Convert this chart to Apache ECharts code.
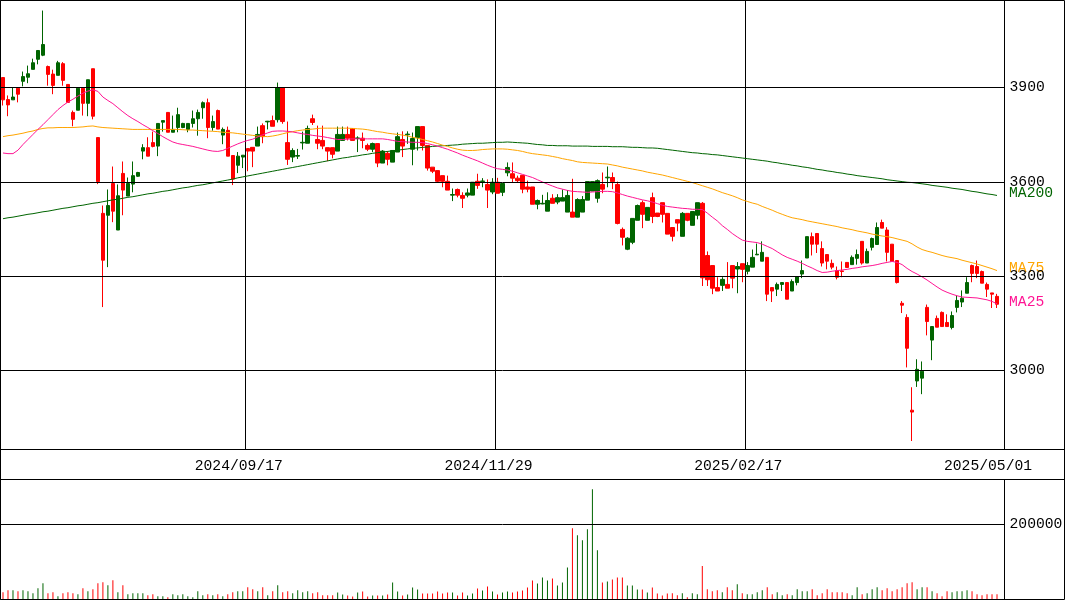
<!DOCTYPE html>
<html><head><meta charset="utf-8">
<script src="https://cdn.jsdelivr.net/npm/echarts@6/dist/echarts.min.js"></script>
<style>html,body{margin:0;padding:0;background:#fff}#c{width:1065px;height:600px}</style>
</head><body><div id="c"></div>
<script>
const opens = [3932,3862,3861,3898,3920,3933,3958,3990,4003,3967,3943,3939,3976,3910,3821,3828,3898,3850,3960,3741,
3500,3494,3595,3447,3627,3555,3593,3618,3698,3709,3725,3714,3790,3821,3758,3773,3773,3767,3786,3801,
3836,3852,3773,3827,3749,3764,3684,3653,3679,3706,3710,3714,3779,3791,3795,3798,3900,3725,3679,3682,
3724,3723,3801,3735,3732,3709,3709,3698,3732,3751,3770,3738,3739,3716,3704,3722,3660,3691,3663,3695,
3735,3750,3704,3741,3776,3716,3647,3636,3620,3602,3558,3576,3557,3558,3558,3602,3601,3592,3568,3599,
3567,3629,3626,3612,3621,3584,3584,3529,3530,3507,3548,3536,3539,3504,3504,3488,3504,3542,3571,3548,
3592,3613,3614,3592,3449,3386,3408,3478,3534,3478,3550,3501,3534,3500,3455,3480,3427,3500,3462,3494,
3532,3366,3334,3264,3271,3274,3334,3323,3340,3316,3329,3368,3348,3360,3264,3259,3274,3280,3253,3280,
3307,3358,3426,3436,3388,3369,3341,3318,3317,3344,3337,3357,3411,3342,3392,3401,3471,3447,3402,3350,
3214,3169,2874,2967,2976,3201,3097,3166,3185,3153,3137,3201,3218,3246,3334,3331,3315,3274,3247,3236];
const closes = [3861,3845,3870,3879,3935,3944,3979,4018,4037,3942,3907,3979,3923,3853,3799,3898,3850,3925,3809,3601,
3351,3525,3507,3556,3574,3595,3620,3630,3709,3682,3713,3786,3795,3758,3767,3814,3786,3786,3801,3821,
3852,3773,3792,3768,3767,3682,3609,3682,3685,3698,3698,3751,3744,3793,3777,3900,3792,3672,3700,3684,
3726,3770,3789,3723,3714,3698,3688,3751,3751,3739,3732,3740,3732,3704,3722,3660,3698,3672,3700,3744,
3714,3752,3738,3776,3716,3644,3634,3602,3602,3574,3560,3558,3548,3565,3599,3589,3603,3574,3599,3564,
3595,3646,3612,3604,3577,3577,3529,3541,3532,3541,3532,3550,3550,3557,3488,3544,3544,3601,3601,3604,
3577,3615,3601,3468,3424,3421,3484,3525,3497,3519,3490,3490,3497,3434,3427,3469,3500,3478,3506,3534,
3295,3289,3262,3253,3290,3262,3294,3331,3322,3334,3360,3370,3376,3243,3253,3274,3280,3227,3283,3299,
3318,3426,3402,3402,3342,3348,3329,3297,3315,3328,3360,3369,3342,3379,3420,3455,3453,3376,3347,3280,
3208,3071,2868,3004,2998,3156,3140,3138,3140,3140,3175,3223,3230,3280,3309,3309,3278,3259,3243,3211];
const highs = [3932,3875,3899,3898,3951,3970,3992,4018,4145,3970,3957,3985,3981,3910,3827,3898,3898,3925,3960,3741,
3525,3576,3649,3592,3665,3614,3665,3632,3720,3742,3760,3786,3795,3821,3811,3836,3788,3786,3827,3830,
3856,3865,3811,3830,3773,3776,3684,3695,3685,3706,3710,3776,3786,3794,3811,3916,3900,3792,3707,3705,
3760,3779,3814,3779,3779,3709,3709,3776,3776,3776,3770,3745,3757,3722,3725,3722,3701,3698,3700,3757,
3761,3761,3757,3776,3776,3716,3647,3636,3620,3620,3579,3579,3567,3579,3599,3626,3612,3608,3612,3613,
3595,3662,3662,3620,3621,3604,3584,3544,3559,3567,3561,3561,3576,3574,3610,3548,3555,3601,3601,3608,
3630,3649,3630,3601,3455,3424,3484,3528,3541,3519,3566,3501,3534,3500,3455,3480,3504,3500,3506,3534,
3536,3379,3334,3297,3297,3345,3334,3345,3340,3345,3385,3404,3411,3360,3264,3280,3280,3280,3290,3299,
3350,3426,3439,3436,3411,3369,3353,3331,3347,3344,3366,3385,3411,3388,3423,3471,3480,3456,3402,3350,
3221,3179,2947,3036,3029,3210,3140,3175,3188,3179,3188,3239,3255,3297,3337,3350,3318,3280,3247,3244];
const lows = [3843,3809,3861,3853,3904,3914,3958,3974,4000,3906,3879,3939,3906,3853,3777,3828,3811,3809,3799,3593,
3202,3329,3472,3447,3494,3555,3567,3616,3672,3682,3710,3682,3760,3758,3758,3758,3771,3758,3773,3747,
3801,3739,3763,3768,3720,3682,3590,3628,3644,3634,3647,3714,3723,3767,3777,3789,3785,3654,3663,3673,
3703,3723,3781,3704,3704,3666,3675,3698,3732,3732,3732,3695,3707,3698,3695,3647,3660,3653,3663,3695,
3679,3721,3653,3700,3700,3636,3628,3599,3583,3574,3539,3551,3517,3551,3558,3578,3583,3517,3561,3564,
3555,3618,3599,3599,3564,3567,3529,3513,3529,3507,3532,3529,3539,3504,3488,3488,3504,3542,3571,3534,
3564,3583,3577,3465,3398,3383,3402,3478,3453,3478,3469,3488,3471,3434,3411,3443,3427,3475,3462,3481,
3269,3269,3243,3253,3253,3262,3262,3246,3281,3306,3329,3368,3348,3221,3218,3237,3253,3227,3253,3271,
3294,3358,3366,3374,3331,3322,3322,3290,3297,3328,3337,3337,3337,3342,3382,3401,3453,3347,3347,3277,
3183,3010,2776,2948,2925,3112,3033,3138,3140,3140,3131,3185,3202,3246,3281,3294,3278,3234,3199,3199];
const volumes = [19500,24800,24800,22100,24800,22100,16800,30100,43500,16800,19500,8800,16800,19500,16800,14100,30100,22100,27500,43500,
46100,38100,51500,19500,38100,14100,16800,16800,16800,11500,14100,8800,8800,6100,14100,11500,14100,8800,6100,22100,
11500,14100,11500,14100,8800,14100,19500,22100,22100,32800,27500,22100,32800,11500,22100,38100,19500,22100,16800,24800,
19500,22100,16800,19500,11500,11500,11500,18700,13300,10700,8000,18700,21300,8000,10700,10700,10700,13300,45300,21300,
10700,13300,32000,26700,16000,16000,16000,21300,16000,18700,18700,10700,18700,10700,16000,29300,24000,34700,21300,13300,
18700,21300,18700,21300,24000,32000,50700,42700,58700,50700,56000,37300,45300,85300,189300,170700,157300,186700,293300,130700,
45300,48000,53300,58700,58700,37300,37300,26700,26700,18700,32000,16000,10700,16000,16800,11500,16800,6100,16800,14100,
88800,27500,22100,24800,19500,32800,24800,40800,16800,14100,14100,19500,24800,32800,14100,19500,11500,14100,11500,27500,
22100,22100,27500,11500,16800,27500,19500,19500,19500,16800,11500,32800,14100,16800,27500,32800,24800,30100,22100,27500,
32800,43500,46100,27500,32800,32800,22100,16800,8800,22100,19500,22100,22100,24800,22100,14100,11500,14100,14100,14100];
const ma25 = [3692,3690,3690,3701,3719,3735,3751,3767,3782,3798,3814,3830,3843,3854,3863,3873,3882,3889,3893,3888,
3870,3859,3849,3836,3823,3811,3801,3792,3782,3773,3763,3754,3744,3735,3727,3722,3719,3716,3713,3709,
3705,3701,3698,3697,3700,3707,3714,3721,3727,3732,3736,3743,3750,3756,3761,3762,3762,3761,3759,3756,
3753,3751,3748,3746,3744,3741,3738,3735,3735,3736,3737,3737,3737,3737,3737,3737,3737,3735,3732,3729,
3728,3727,3726,3726,3725,3722,3718,3714,3709,3704,3698,3692,3685,3679,3673,3667,3660,3653,3647,3642,
3640,3638,3634,3629,3624,3619,3614,3607,3600,3593,3587,3581,3577,3573,3570,3569,3568,3567,3568,3569,
3570,3570,3569,3565,3560,3555,3551,3547,3543,3540,3536,3531,3526,3522,3520,3518,3516,3515,3513,3513,
3512,3501,3488,3476,3461,3449,3436,3425,3415,3411,3409,3407,3402,3395,3388,3378,3368,3360,3354,3348,
3341,3333,3326,3318,3312,3313,3316,3318,3320,3322,3325,3327,3330,3332,3334,3337,3341,3344,3347,3344,
3337,3325,3315,3307,3298,3288,3277,3266,3256,3249,3243,3238,3234,3233,3232,3231,3228,3225,3220,3212];
const ma75 = [3744,3747,3749,3752,3755,3759,3762,3767,3770,3772,3772,3773,3773,3773,3773,3774,3775,3777,3778,3775,
3773,3772,3771,3770,3769,3768,3767,3767,3767,3767,3767,3767,3767,3767,3767,3767,3766,3765,3765,3764,
3763,3762,3761,3760,3758,3757,3756,3754,3752,3750,3748,3746,3745,3744,3746,3749,3753,3757,3760,3763,
3765,3767,3768,3770,3771,3771,3771,3771,3771,3771,3770,3769,3768,3766,3763,3760,3758,3755,3753,3751,
3749,3746,3742,3739,3735,3731,3727,3722,3717,3713,3708,3704,3701,3700,3700,3701,3703,3704,3705,3705,
3705,3704,3702,3700,3697,3693,3690,3688,3686,3684,3681,3678,3674,3671,3668,3664,3662,3661,3660,3659,
3658,3657,3654,3651,3647,3644,3641,3638,3635,3631,3628,3625,3622,3618,3614,3610,3606,3602,3598,3593,
3588,3583,3578,3572,3566,3561,3556,3550,3543,3538,3533,3529,3522,3516,3510,3503,3497,3491,3486,3483,
3480,3476,3473,3470,3467,3464,3461,3458,3454,3451,3448,3444,3441,3438,3434,3431,3428,3426,3423,3419,
3415,3411,3403,3393,3385,3380,3376,3371,3366,3362,3359,3356,3351,3347,3343,3339,3334,3329,3324,3318];
const ma200 = [3483,3486,3488,3491,3494,3497,3499,3502,3505,3507,3510,3513,3516,3518,3521,3524,3526,3529,3532,3534,
3537,3540,3543,3545,3548,3551,3553,3556,3559,3562,3564,3567,3570,3572,3575,3578,3581,3583,3586,3589,
3591,3594,3597,3600,3603,3606,3609,3613,3616,3619,3622,3625,3628,3631,3634,3637,3640,3643,3646,3649,
3652,3655,3658,3661,3664,3667,3670,3673,3676,3678,3681,3683,3686,3688,3691,3693,3695,3697,3699,3701,
3703,3705,3707,3708,3710,3711,3713,3714,3715,3716,3717,3718,3720,3721,3722,3723,3723,3724,3725,3726,
3726,3727,3726,3725,3724,3723,3721,3719,3718,3716,3716,3715,3715,3715,3714,3714,3714,3714,3713,3713,
3713,3713,3712,3712,3712,3711,3710,3710,3709,3708,3708,3707,3705,3703,3701,3699,3697,3695,3693,3692,
3690,3689,3687,3686,3684,3682,3680,3678,3676,3674,3672,3670,3668,3666,3663,3661,3658,3656,3653,3651,
3648,3646,3643,3640,3638,3635,3633,3630,3628,3625,3623,3620,3618,3616,3614,3612,3610,3607,3605,3603,
3601,3599,3598,3596,3594,3592,3589,3587,3585,3583,3580,3578,3576,3573,3570,3568,3565,3562,3560,3557];
const priceTicks = [3000, 3300, 3600, 3900];
const volumeTicks = [200000];
const dateLabels = ['2024/09/17', '2024/11/29', '2025/02/17', '2025/05/01'];
const dateLabelIndex = [49, 99, 149, 199];
const dateLineIndex = [49, 99, 149];

const N = opens.length;
const cats = [];
for (let i = 0; i <= N; i++) cats.push(String(i)); // one trailing empty slot
const candles = opens.map((o, i) => [o, closes[i], lows[i], highs[i]]);
const UP = '#006400', DOWN = '#ff0000';
const C25 = '#ff1493', C75 = '#ffa500', C200 = '#006400';
const volData = volumes.map((v, i) => ({ value: v, itemStyle: { color: closes[i] > opens[i] ? UP : DOWN } }));
const FONT = 'Liberation Mono';
const FS = 14.7;

const chart = echarts.init(document.getElementById('c'), null, { renderer: 'canvas' });
function maSeries(name, data, color) {
  return {
    type: 'line', name, data, xAxisIndex: 0, yAxisIndex: 0, showSymbol: false, symbol: 'none',
    lineStyle: { color, width: 1 }, itemStyle: { color }, silent: true, z: 4,
    endLabel: { show: true, formatter: name, color, fontFamily: FONT, fontSize: FS, distance: 12, offset: [0, -2] }
  };
}
chart.setOption({
  animation: false,
  backgroundColor: '#fff',
  graphic: [
    { type: 'line', shape: { x1: 0, y1: 449.5, x2: 1065, y2: 449.5 }, style: { stroke: '#000', lineWidth: 1 }, z: 100 },
    { type: 'line', shape: { x1: 0, y1: 479.5, x2: 1065, y2: 479.5 }, style: { stroke: '#000', lineWidth: 1 }, z: 100 },
    { type: 'rect', shape: { x: 0.5, y: 0.5, width: 1064, height: 599 }, style: { fill: null, stroke: '#000', lineWidth: 1 }, z: 100 }
  ],
  grid: [
    { left: 0.5, top: 0.5, width: 1004, height: 449, show: true, borderColor: '#000', borderWidth: 1, backgroundColor: 'transparent' },
    { left: 0.5, top: 479.5, width: 1004, height: 120, show: true, borderColor: '#000', borderWidth: 1, backgroundColor: 'transparent' }
  ],
  xAxis: [
    { type: 'category', gridIndex: 0, data: cats, boundaryGap: true,
      axisLine: { show: false }, axisTick: { show: false },
      axisLabel: { show: true, interval: (i) => dateLabelIndex.includes(i),
        formatter: (v, i) => { const k = dateLabelIndex.indexOf(i); return k >= 0 ? dateLabels[k] : ''; },
        fontFamily: FONT, fontSize: FS, color: '#000', margin: 9, padding: [0, 18, 0, 0] },
      splitLine: { show: true, interval: (i) => dateLineIndex.includes(i), lineStyle: { color: '#000', width: 1 } } },
    { type: 'category', gridIndex: 1, data: cats, boundaryGap: true,
      axisLine: { show: false }, axisTick: { show: false }, axisLabel: { show: false }, splitLine: { show: false } }
  ],
  yAxis: [
    { type: 'value', gridIndex: 0, min: 2749, max: 4177, position: 'right', scale: true,
      axisLine: { show: false }, axisTick: { show: false }, axisLabel: { show: false }, splitLine: { show: false } },
    { type: 'value', gridIndex: 1, min: 0, max: 319000, position: 'right',
      axisLine: { show: false }, axisTick: { show: false }, axisLabel: { show: false }, splitLine: { show: false } }
  ],
  series: [
    { type: 'line', name: 'grid', data: [], xAxisIndex: 0, yAxisIndex: 0, silent: true, z: 1,
      markLine: { silent: true, symbol: ['none', 'none'], animation: false,
        lineStyle: { type: 'solid', color: '#000', width: 1 },
        label: { show: true, position: 'end', formatter: (p) => String(p.value), color: '#000', fontFamily: FONT, fontSize: FS, distance: 5 },
        data: priceTicks.map(v => ({ yAxis: v })) } },
    { type: 'candlestick', name: 'price', data: candles, xAxisIndex: 0, yAxisIndex: 0, barWidth: 4, z: 3, silent: true,
      itemStyle: { color: UP, color0: DOWN, borderColor: UP, borderColor0: DOWN, borderWidth: 1 } },
    maSeries('MA200', ma200, C200),
    maSeries('MA75', ma75, C75),
    maSeries('MA25', ma25, C25),
    { type: 'bar', name: 'volume', data: volData, xAxisIndex: 1, yAxisIndex: 1, barWidth: 1, silent: true, z: 3,
      markLine: { silent: true, symbol: ['none', 'none'], animation: false,
        lineStyle: { type: 'solid', color: '#000', width: 1 },
        label: { show: true, position: 'end', formatter: (p) => String(p.value), color: '#000', fontFamily: FONT, fontSize: FS, distance: 5 },
        data: volumeTicks.map(v => ({ yAxis: v })) } }
  ]
});
</script></body></html>
